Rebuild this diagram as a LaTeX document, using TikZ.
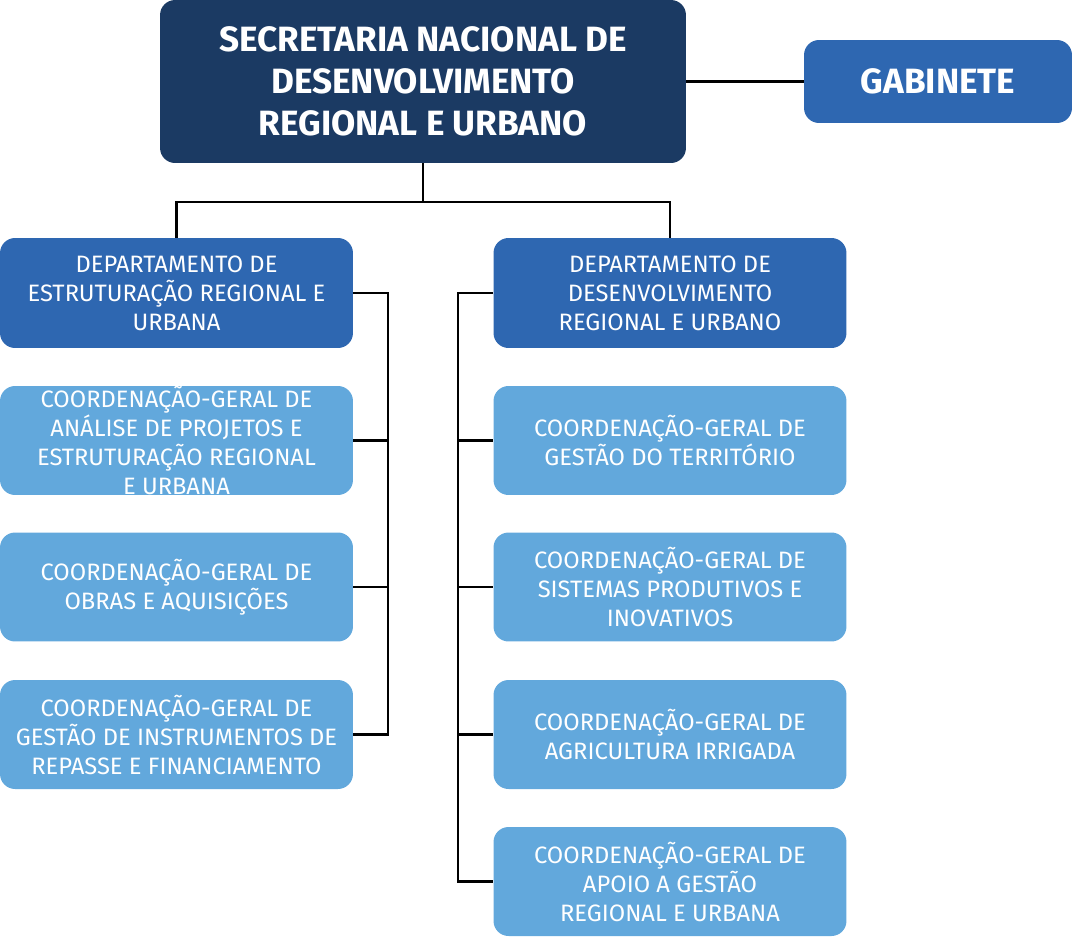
\documentclass[tikz,border=0pt]{standalone}
\usepackage{fontspec}
\setmainfont{Fira Sans}
\usetikzlibrary{positioning}
\definecolor{navy}{HTML}{1B3A63}
\definecolor{midblue}{HTML}{2E67B1}
\definecolor{lightblue}{HTML}{62A8DC}
\tikzset{
  box/.style={rounded corners=0.3cm, text=white, align=center, inner sep=0pt},
  topbox/.style={box, fill=navy, minimum width=10.52cm, minimum height=3.26cm, font=\fontsize{20}{24}\selectfont\bfseries},
  gabbox/.style={box, fill=midblue, minimum width=5.36cm, minimum height=1.66cm, font=\fontsize{20}{24}\selectfont\bfseries},
  deptbox/.style={box, fill=midblue, minimum width=7.06cm, minimum height=2.2cm, font=\fontsize{13.5}{16.5}\selectfont},
  cgbox/.style={box, fill=lightblue, minimum width=7.06cm, minimum height=2.18cm, font=\fontsize{13.5}{16.5}\selectfont},
  link/.style={line width=1.2pt, black}
}
\begin{document}
\begin{tikzpicture}[x=0.02cm, y=-0.02cm]
    \useasboundingbox (0,0) rectangle (1072,937);
    %% caixas principais
    \node[topbox] (sec) at (423,81.5) {SECRETARIA NACIONAL DE\\DESENVOLVIMENTO\\REGIONAL E URBANO};
    \node[gabbox] (gab) at (938,81.5) {GABINETE};
    \node[deptbox] (depA) at (176.5,293) {DEPARTAMENTO DE\\ESTRUTURAÇÃO REGIONAL E\\URBANA};
    \node[deptbox] (depB) at (670,293) {DEPARTAMENTO DE\\DESENVOLVIMENTO\\REGIONAL E URBANO};
    %% coordenações
    \node[cgbox] (cgA1) at (176.5,440.5) {COORDENAÇÃO-GERAL DE\\ANÁLISE DE PROJETOS E\\ESTRUTURAÇÃO REGIONAL\\E URBANA};
    \node[cgbox] (cgA2) at (176.5,587) {COORDENAÇÃO-GERAL DE\\OBRAS E AQUISIÇÕES};
    \node[cgbox] (cgA3) at (176.5,734.5) {COORDENAÇÃO-GERAL DE\\GESTÃO DE INSTRUMENTOS DE\\REPASSE E FINANCIAMENTO};
    \node[cgbox] (cgB1) at (670,440.5) {COORDENAÇÃO-GERAL DE\\GESTÃO DO TERRITÓRIO};
    \node[cgbox] (cgB2) at (670,587) {COORDENAÇÃO-GERAL DE\\SISTEMAS PRODUTIVOS E\\INOVATIVOS};
    \node[cgbox] (cgB3) at (670,734.5) {COORDENAÇÃO-GERAL DE\\AGRICULTURA IRRIGADA};
    \node[cgbox] (cgB4) at (670,881.5) {COORDENAÇÃO-GERAL DE\\APOIO A GESTÃO\\REGIONAL E URBANA};
    %% ligações
    \coordinate (busA) at (388,0);
    \coordinate (busB) at (458,0);
    \draw[link] (sec) -- (gab);
    \draw[link] (sec.south) -- ++(0,39) -| (depA.north);
    \draw[link] (sec.south) -- ++(0,39) -| (depB.north);
    \draw[link] (depA.east) -| (busA |- cgA3) -- (cgA3.east);
    \foreach \n in {cgA1,cgA2}
        \draw[link] (busA |- \n) -- (\n.east);
    \draw[link] (depB.west) -| (busB |- cgB4) -- (cgB4.west);
    \foreach \n in {cgB1,cgB2,cgB3}
        \draw[link] (busB |- \n) -- (\n.west);
\end{tikzpicture}
\end{document}
